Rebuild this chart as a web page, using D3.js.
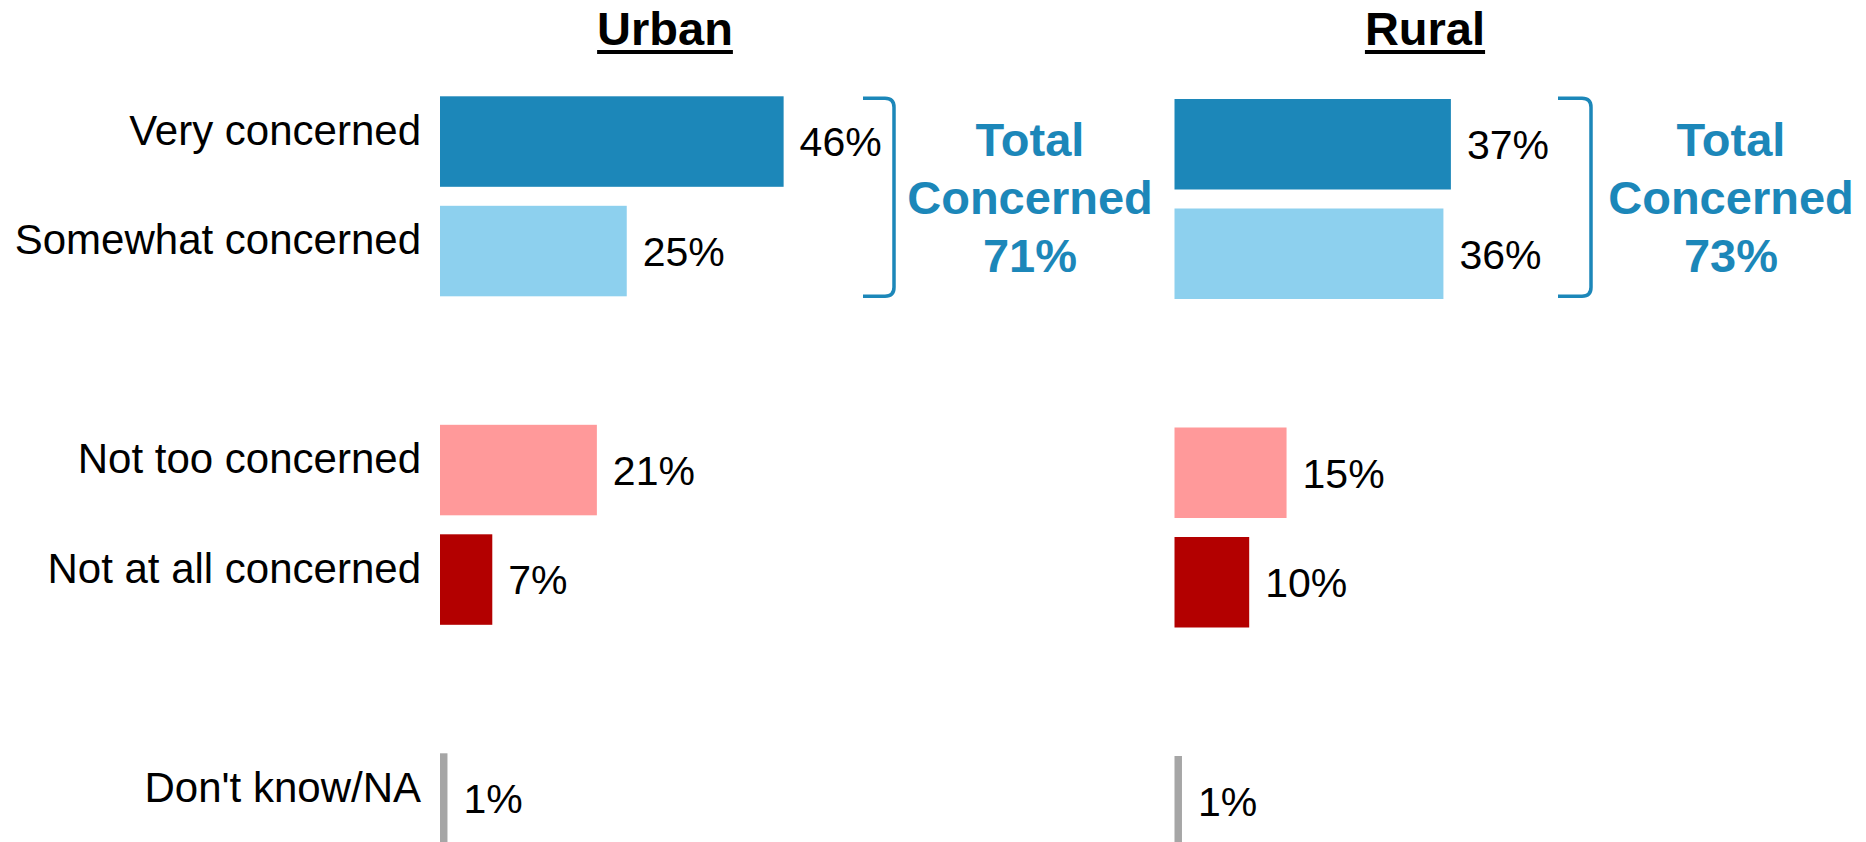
<!DOCTYPE html>
<html>
<head>
<meta charset="utf-8">
<script src="https://cdn.jsdelivr.net/npm/d3@7"></script>
<style>
  body { margin: 0; background: #fff; }
  svg { display: block; font-family: Arial, "Liberation Sans", sans-serif; }
</style>
</head>
<body>
<script>
// data
var categories = ["Very concerned", "Somewhat concerned", "Not too concerned", "Not at all concerned", "Don't know/NA"];
var urbanValues = [46, 25, 21, 7, 1];
var ruralValues = [37, 36, 15, 10, 1];
var panelNames = ["Urban", "Rural"];
var totalConcerned = [71, 73];

var svgWidth = 1866;
var svgHeight = 842;

var svg = d3.select("body")
    .append("svg")
    .attr("width", svgWidth)
    .attr("height", svgHeight);

// row slots, with two empty slots between the groups
var slots = [categories[0], categories[1], "_gap1", categories[2], categories[3], "_gap2", categories[4]];

var yScale = d3.scaleBand()
    .domain(slots)
    .range([96.3, 843.8])
    .paddingInner(0.1735)
    .paddingOuter(0);

var xScale = d3.scaleLinear().domain([0, 100]).range([0, 747]);

var color = d3.scaleOrdinal()
    .domain(categories)
    .range(["#1c87b9", "#8dd0ee", "#ff999a", "#b30000", "#a6a6a6"]);

var blue = "#1c87b9";

// per-panel layout
var panels = [
    { name: panelNames[0], values: urbanValues, total: totalConcerned[0], x0: 440, dy: 0, titleX: 665, bracketL: 863, bracketR: 894, totalX: 1030 },
    { name: panelNames[1], values: ruralValues, total: totalConcerned[1], x0: 1174.5, dy: 2.7, titleX: 1425, bracketL: 1558, bracketR: 1591, totalX: 1731 }
];

// category labels
svg.append("g")
    .selectAll("text")
    .data(categories)
    .enter()
    .append("text")
    .attr("x", 421)
    .attr("y", d => yScale(d) + yScale.bandwidth() / 2 + 3)
    .attr("text-anchor", "end")
    .attr("font-size", 42)
    .attr("fill", "#000")
    .text(d => d);

panels.forEach(function(p) {
    var g = svg.append("g");
    var rows = categories.map((c, i) => ({ cat: c, value: p.values[i] }));

    // title with underline
    var title = g.append("text")
        .attr("x", p.titleX)
        .attr("y", 45)
        .attr("text-anchor", "middle")
        .attr("font-size", 47)
        .attr("font-weight", "bold")
        .attr("fill", "#000")
        .text(p.name);
    var bb = title.node().getBBox();
    g.append("rect")
        .attr("x", bb.x)
        .attr("y", 50)
        .attr("width", bb.width)
        .attr("height", 4)
        .attr("fill", "#000");

    // bars
    g.selectAll("rect.bar")
        .data(rows)
        .enter()
        .append("rect")
        .attr("class", "bar")
        .attr("x", p.x0)
        .attr("y", d => yScale(d.cat) + p.dy)
        .attr("width", d => xScale(d.value))
        .attr("height", yScale.bandwidth())
        .attr("fill", d => color(d.cat));

    // value labels
    g.selectAll("text.val")
        .data(rows)
        .enter()
        .append("text")
        .attr("class", "val")
        .attr("x", d => p.x0 + xScale(d.value) + 16)
        .attr("y", d => yScale(d.cat) + p.dy + yScale.bandwidth() / 2)
        .attr("dy", "0.36em")
        .attr("font-size", 41)
        .attr("fill", "#000")
        .text(d => d.value + "%");

    // bracket around the two "concerned" bars
    var yTop = yScale(categories[0]) + 2;
    var yBot = yScale(categories[1]) + yScale.bandwidth();
    var r = 9;
    g.append("path")
        .attr("d", "M" + p.bracketL + "," + yTop +
            "H" + (p.bracketR - r) +
            "Q" + p.bracketR + "," + yTop + " " + p.bracketR + "," + (yTop + r) +
            "V" + (yBot - r) +
            "Q" + p.bracketR + "," + yBot + " " + (p.bracketR - r) + "," + yBot +
            "H" + p.bracketL)
        .attr("fill", "none")
        .attr("stroke", blue)
        .attr("stroke-width", 3.5);

    // total concerned
    var mid = (yTop + yBot) / 2;
    var t = g.append("text")
        .attr("text-anchor", "middle")
        .attr("font-size", 47)
        .attr("font-weight", "bold")
        .attr("fill", blue);
    t.append("tspan").attr("x", p.totalX).attr("y", mid - 41).text("Total");
    t.append("tspan").attr("x", p.totalX).attr("y", mid + 16.5).text("Concerned");
    t.append("tspan").attr("x", p.totalX).attr("y", mid + 75).text(p.total + "%");
});
</script>
</body>
</html>
